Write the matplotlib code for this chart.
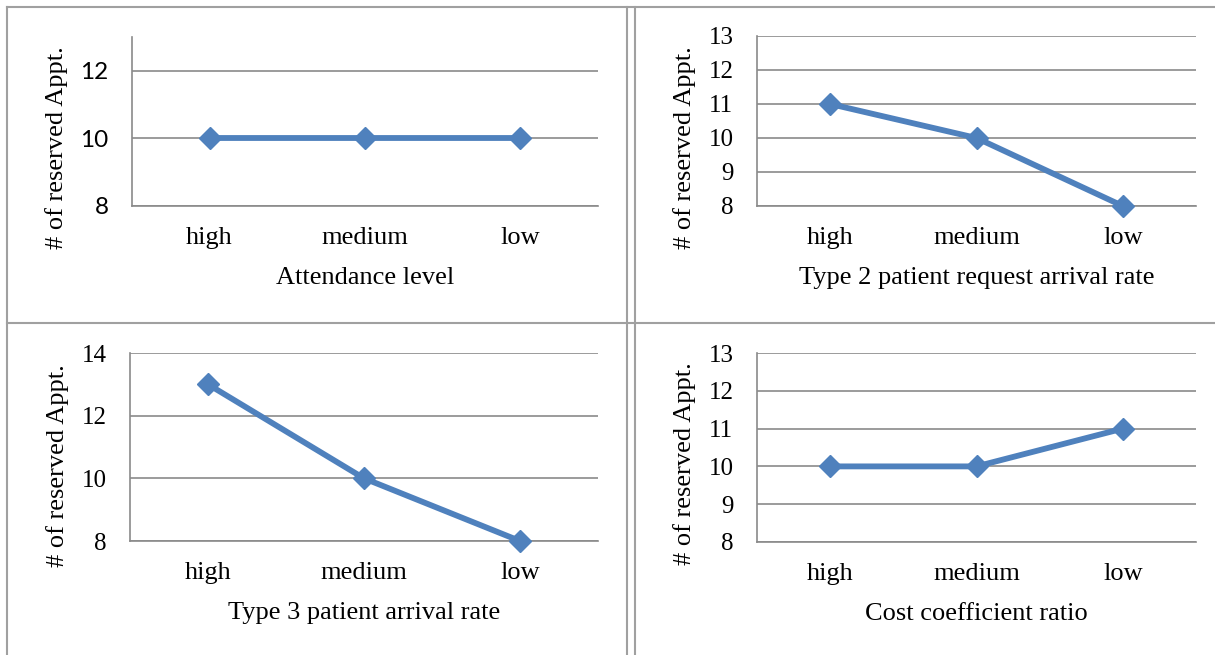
import numpy as np
from matplotlib import pyplot as plt
from matplotlib.lines import Line2D

# data
levels = ["high", "medium", "low"]
attendance = [10, 10, 10]
type2_rate = [11, 10, 8]
type3_rate = [13, 10, 8]
cost_ratio = [10, 10, 11]

xlabels = ["Attendance level", "Type 2 patient request arrival rate",
           "Type 3 patient arrival rate", "Cost coefficient ratio"]
ylabel = "# of reserved Appt."

blue = "#4F81BD"
grid_gray = "#8a8a8a"
serif = "Liberation Serif"

W, H = 1215, 655
fig = plt.figure(figsize=(W / 100, H / 100), dpi=100)


def px_axes(left, top, right, bottom):
    return fig.add_axes([left / W, 1 - bottom / H, (right - left) / W, (bottom - top) / H])


def panel(ax, values, ylim, yticks, xlab, ylab_xy, xlab_y, ytick_font):
    x = np.arange(len(levels))
    ax.plot(x, values, color=blue, lw=4.2, marker="D", ms=10.8,
            solid_capstyle="butt", zorder=3, clip_on=False)
    ax.set_xlim(-0.5, len(levels) - 0.5)
    ax.set_ylim(*ylim)
    ax.set_yticks(yticks)
    ax.set_xticks(x)
    ax.set_xticklabels(levels, fontsize=19, family=serif)
    for lab in ax.get_yticklabels():
        lab.set_family(ytick_font)
        lab.set_fontsize(18 if ytick_font == serif else 17.5)
    ax.tick_params(length=0)
    ax.tick_params(axis="y", pad=17)
    ax.tick_params(axis="x", pad=15)
    ax.grid(axis="y", color=grid_gray, lw=1.2)
    ax.set_axisbelow(True)
    for s in ["top", "right"]:
        ax.spines[s].set_visible(False)
    for s in ["left", "bottom"]:
        ax.spines[s].set_color(grid_gray)
        ax.spines[s].set_linewidth(1.2)
    ax.set_xlabel(xlab, fontsize=19, family=serif, va="center")
    ax.xaxis.set_label_coords(0.5, xlab_y)
    ax.set_ylabel(ylabel, fontsize=19, family=serif, va="center")
    ax.yaxis.set_label_coords(*ylab_xy)


ax1 = px_axes(132, 37, 598, 206)
panel(ax1, attendance, (8, 13), [8, 10, 12], xlabels[0], (-0.161, 0.345), -0.425, "Lato")

ax2 = px_axes(757, 36, 1196, 206)
panel(ax2, type2_rate, (8, 13), range(8, 14), xlabels[1], (-0.166, 0.345), -0.425, serif)

ax3 = px_axes(130, 353, 598, 541)
panel(ax3, type3_rate, (8, 14), range(8, 15, 2), xlabels[2], (-0.154, 0.40), -0.385, serif)

ax4 = px_axes(757, 353, 1196, 542)
panel(ax4, cost_ratio, (8, 13), range(8, 14), xlabels[3], (-0.166, 0.415), -0.38, serif)

# table-cell borders around the panels
border = "#a0a0a0"
for xs, ys in [([7, 7], [7, H]), ([7, W], [7, 7]), ([7, W], [323, 323]),
               ([627, 627], [7, H]), ([635, 635], [7, H])]:
    fig.add_artist(Line2D([v / W for v in xs], [1 - v / H for v in ys],
                          color=border, lw=1.5))

fig.savefig("out.png", dpi=100)
